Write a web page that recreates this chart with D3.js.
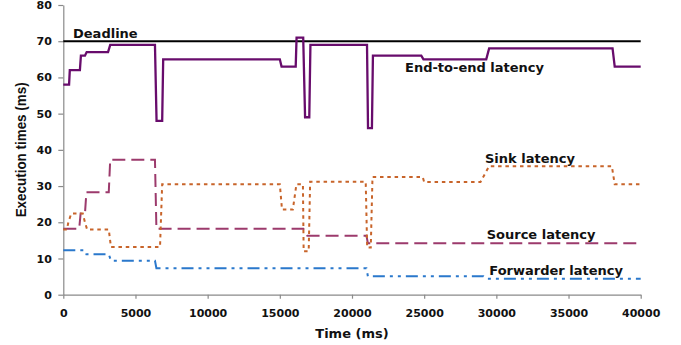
<!DOCTYPE html>
<html><head><meta charset="utf-8">
<script src="https://cdn.jsdelivr.net/npm/d3@7"></script>
<style>body{margin:0;background:#fff}svg{display:block}</style>
</head><body><svg id="chart" width="681" height="345"></svg>
<script>
// ---- data ----
const xTickValues = [0, 5000, 10000, 15000, 20000, 25000, 30000, 35000, 40000];
const yTickValues = [0, 10, 20, 30, 40, 50, 60, 70, 80];
const deadlineValue = 70;

const e2eTime  = [0, 400, 450, 1150, 1220, 1500, 1620, 3100, 3250, 6350, 6460, 6850, 6920, 15000, 15120, 16100, 16160, 16620, 16750, 17040, 17120, 21040, 21110, 21380, 21450, 24800, 24950, 29300, 29500, 38050, 38200, 40000];
const e2eValue = [58, 58, 62, 62, 66, 66, 67, 67, 69, 69, 48, 48, 65, 65, 63, 63, 71, 71, 49, 49, 69, 69, 46, 46, 66, 66, 65, 65, 68, 68, 63, 63];

const sinkTime  = [0, 250, 350, 550, 1350, 1500, 1650, 3150, 3300, 6700, 6850, 15000, 15150, 15900, 16150, 16600, 16650, 17000, 17100, 20950, 21050, 21300, 21420, 24900, 25000, 28900, 29500, 38000, 38200, 40000];
const sinkValue = [18, 18, 20, 22.4, 22.4, 20, 18, 18, 13.2, 13.2, 30.5, 30.5, 23.5, 23.5, 30.5, 30.5, 12, 12, 31.2, 31.2, 13, 13, 32.5, 32.5, 31.1, 31.1, 35.5, 35.5, 30.5, 30.5];

const sourceTime  = [0, 1100, 1200, 1500, 1600, 3150, 3250, 6350, 6450, 16630, 16900, 21000, 21100, 40000];
const sourceValue = [18.2, 18.2, 22.4, 22.4, 28.3, 28.3, 37.3, 37.3, 18.2, 18.2, 16.3, 16.3, 14.2, 14.2];

const fwdTime  = [0, 1500, 1600, 3150, 3300, 6350, 6450, 21000, 21100, 29100, 29300, 40000];
const fwdValue = [12.3, 12.3, 11.2, 11.2, 9.4, 9.4, 7.3, 7.3, 5.1, 5.1, 4.4, 4.4];

const seriesLabels = ["Deadline", "End-to-end latency", "Sink latency", "Source latency", "Forwarder latency"];
const xTitle = "Time (ms)";
const yTitle = "Execution times (ms)";

// ---- chart ----
const svg = d3.select("#chart");
const x = d3.scaleLinear().domain([0, 40000]).range([63.3, 640.7]);
const y = d3.scaleLinear().domain([0, 80]).range([294.7, 5]);
const axisColor = "#8a8a8a";
const tickFont = "bold 11px 'DejaVu Sans'";

const gx = svg.append("g").attr("transform", `translate(0,${y(0)})`)
  .call(d3.axisBottom(x).tickValues(xTickValues).tickFormat(d3.format("d")).tickSize(4).tickPadding(10.6).tickSizeOuter(0));
const gy = svg.append("g").attr("transform", `translate(${x(0)},0)`)
  .call(d3.axisLeft(y).tickValues(yTickValues).tickFormat(d3.format("d")).tickSize(5).tickPadding(6.5).tickSizeOuter(0));
[gx, gy].forEach(g => {
  g.select(".domain").attr("stroke", axisColor).attr("stroke-width", 1.2);
  g.selectAll(".tick line").attr("stroke", axisColor).attr("stroke-width", 1.2);
  g.selectAll(".tick text").attr("fill", "#111").style("font", tickFont);
});

const line = d3.line().x(d => x(d[0])).y(d => y(d[1]));
const zip = (t, v) => t.map((d, i) => [d, v[i]]);

// deadline
svg.append("path").datum([[0, deadlineValue], [40000, deadlineValue]])
  .attr("d", line).attr("fill", "none").attr("stroke", "#000").attr("stroke-width", 2);

const series = [
  {t: fwdTime, v: fwdValue, color: "#2a78cc", dash: "12,5,3,5,3,5", w: 2},
  {t: sourceTime, v: sourceValue, color: "#9c3a6c", dash: "13,6", w: 2},
  {t: sinkTime, v: sinkValue, color: "#c8642a", dash: "3.5,3.8", w: 2},
  {t: e2eTime, v: e2eValue, color: "#680c6c", dash: null, w: 2.3}
];
series.forEach(s => {
  svg.append("path").datum(zip(s.t, s.v)).attr("d", line)
    .attr("fill", "none").attr("stroke", s.color).attr("stroke-width", s.w)
    .attr("stroke-dasharray", s.dash).attr("stroke-linejoin", "miter");
});

// series labels
const labelPos = [[73, 37.7], [405, 72.3], [485, 163], [486.7, 238.8], [489.3, 274.5]];
seriesLabels.forEach((t, i) => {
  svg.append("text").attr("x", labelPos[i][0]).attr("y", labelPos[i][1])
    .style("font", "bold 13px 'DejaVu Sans'").attr("fill", "#111").text(t);
});

// axis titles
svg.append("text").attr("x", (x(0) + x(40000)) / 2).attr("y", 337.5)
  .attr("text-anchor", "middle").style("font", "bold 13px 'DejaVu Sans'").attr("fill", "#111").text(xTitle);
svg.append("text").attr("transform", `translate(26,${(y(0) + y(80)) / 2}) rotate(-90)`)
  .attr("text-anchor", "middle").style("font", "bold 14.5px 'Liberation Sans'")
  .attr("textLength", 135).attr("lengthAdjust", "spacingAndGlyphs")
  .attr("fill", "#111").text(yTitle);
</script></body></html>
